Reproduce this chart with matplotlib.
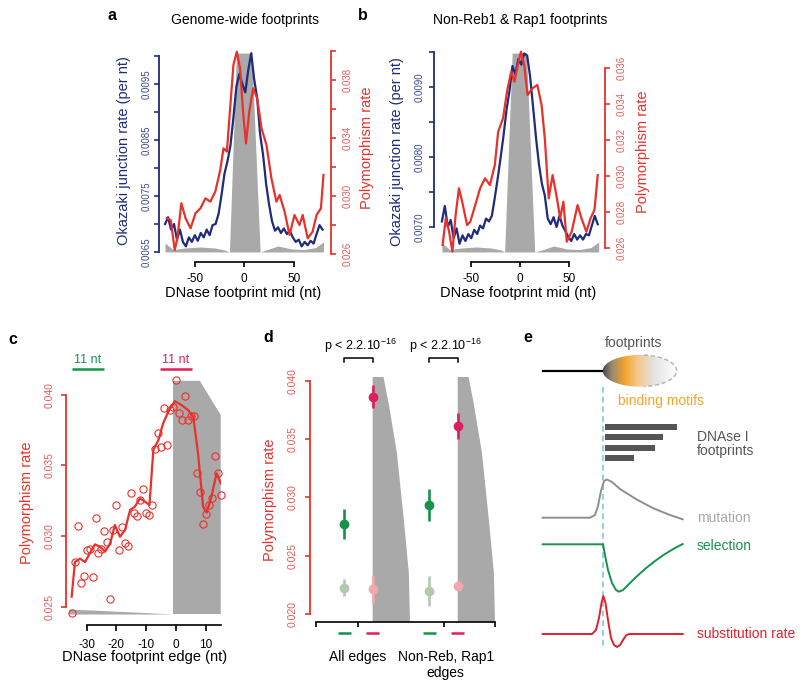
import numpy as np
import matplotlib
matplotlib.use('Agg')
import matplotlib.pyplot as plt
from matplotlib.patches import Ellipse, Arc, Polygon
from matplotlib.colors import LinearSegmentedColormap

plt.rcParams['font.family'] = ['Liberation Sans', 'DejaVu Sans']
plt.rcParams['axes.unicode_minus'] = False
plt.rcParams['mathtext.fontset'] = 'custom'
plt.rcParams['mathtext.rm'] = 'Liberation Sans'
plt.rcParams['mathtext.default'] = 'regular'

# ---------------- data ----------------
# panel a
a_blue_x = [-80, -77, -74, -71, -68, -65, -62, -59, -56, -53, -50, -47, -44, -41, -38, -35, -32, -29,
            -26, -23, -20, -17, -14, -11, -8, -5, -2, 1, 4, 7, 10, 13, 16, 19, 22, 25, 28, 31, 34, 37,
            40, 43, 46, 49, 52, 55, 58, 61, 64, 67, 70, 73, 76, 79]
a_blue_y = [0.00700, 0.00712, 0.00690, 0.00700, 0.00672, 0.00690, 0.00668, 0.00660, 0.00676, 0.00668,
            0.00680, 0.00670, 0.00684, 0.00676, 0.00690, 0.00680, 0.00698, 0.00700, 0.00718, 0.00752,
            0.00790, 0.00812, 0.00840, 0.00890, 0.00945, 0.00968, 0.00950, 0.00935, 0.00975, 0.01005,
            0.00958, 0.00925, 0.00860, 0.00823, 0.00772, 0.00735, 0.00705, 0.00688, 0.00694, 0.00684,
            0.00692, 0.00682, 0.00688, 0.00676, 0.00668, 0.00672, 0.00660, 0.00668, 0.00662, 0.00670,
            0.00665, 0.00682, 0.00698, 0.00690]
a_red_x = [-78.3, -74.3, -70.3, -67.6, -63.6, -59.3, -54.3, -49.3, -44.3, -39.3, -34.3, -29.3, -24.3,
           -21, -17.6, -14.3, -11, -7.6, -4.3, -1, 1.7, 5, 9, 13, 17.4, 22.4, 27.4, 32.4, 35.7, 40.7,
           45.7, 50.7, 55.7, 59, 64, 69, 73, 77.4, 80]
a_red_y = [0.02846, 0.02834, 0.02628, 0.02708, 0.02950, 0.02846, 0.02777, 0.02881, 0.02915, 0.02984,
           0.02961, 0.03030, 0.03179, 0.03329, 0.03306, 0.03605, 0.03903, 0.03995, 0.03881, 0.03559,
           0.03363, 0.03581, 0.03743, 0.03674, 0.03467, 0.03352, 0.03122, 0.02961, 0.03007, 0.02892,
           0.02731, 0.02869, 0.02800, 0.02869, 0.02708, 0.02754, 0.02869, 0.02915, 0.03145]
a_gray_x = [-80, -72, -60, -45, -30, -20, -15, -8, 7.5, 16, 22, 34, 48, 60, 72, 80]
a_gray_h = [0.045, 0.012, 0.02, 0.025, 0.02, 0.01, 0.0, 1.0, 1.0, 0.0, 0.01, 0.03, 0.015, 0.012, 0.022, 0.05]

# panel b
b_blue_x = a_blue_x
b_blue_y = [0.00708, 0.00730, 0.00700, 0.00710, 0.00684, 0.00698, 0.00676, 0.00688, 0.00680, 0.00690,
            0.00684, 0.00696, 0.00690, 0.00702, 0.00698, 0.00712, 0.00708, 0.00716, 0.00742, 0.00770,
            0.00800, 0.00832, 0.00868, 0.00895, 0.00930, 0.00918, 0.00940, 0.00932, 0.00948, 0.00945,
            0.00915, 0.00872, 0.00828, 0.00790, 0.00762, 0.00745, 0.00712, 0.00704, 0.00714, 0.00700,
            0.00716, 0.00702, 0.00694, 0.00686, 0.00680, 0.00690, 0.00682, 0.00688, 0.00682, 0.00690,
            0.00688, 0.00702, 0.00716, 0.00704]
b_red_x = [-79.3, -76, -72.6, -69.3, -66, -62.6, -59.3, -54.3, -51, -46, -41, -36, -31, -26, -22.6,
           -17.6, -13.6, -9.3, -6, -2.6, 0.7, 4, 7.4, 12.4, 17.4, 21.7, 25, 29, 33, 37.4, 40.7, 44,
           47.4, 52.4, 58.4, 62.4, 67.4, 71.7, 75.7, 79]
b_red_y = [0.02617, 0.02765, 0.02690, 0.02580, 0.02783, 0.02931, 0.02857, 0.02727, 0.02746, 0.02838,
           0.02931, 0.02986, 0.02949, 0.03060, 0.03244, 0.03319, 0.03466, 0.03577, 0.03521, 0.03614,
           0.03688, 0.03614, 0.03448, 0.03485, 0.03503, 0.03392, 0.03208, 0.02875, 0.03004, 0.02875,
           0.02765, 0.02857, 0.02635, 0.02690, 0.02838, 0.02765, 0.02690, 0.02765, 0.02811, 0.03004]
b_gray_x = [-80, -72, -60, -45, -30, -20, -16, -8.3, 6.3, 14.7, 22, 34, 48, 60, 72, 80]
b_gray_h = [0.045, 0.012, 0.02, 0.025, 0.02, 0.01, 0.0, 1.0, 1.0, 0.0, 0.01, 0.03, 0.015, 0.012, 0.022, 0.05]

# panel c
c_pts_x = list(range(-35, 16))
c_pts_y = [0.02453, 0.02814, 0.03071, 0.02666, 0.02719, 0.02901, 0.02905, 0.02712, 0.03126, 0.02878,
           0.02906, 0.03036, 0.02960, 0.02555, 0.03043, 0.03220, 0.02901, 0.03066, 0.02953, 0.02932,
           0.03303, 0.03161, 0.03144, 0.03253, 0.03331, 0.03166, 0.03149, 0.03218, 0.03619, 0.03732,
           0.03628, 0.03905, 0.03645, 0.03893, 0.03912, 0.04105, 0.03869, 0.03822, 0.03994, 0.03822,
           0.03852, 0.03852, 0.03444, 0.03314, 0.03085, 0.03156, 0.03220, 0.03272, 0.03567, 0.03444,
           0.03291]
c_fit_x = [-35, -33.9, -32.2, -30.5, -28.9, -27.2, -25.5, -23.8, -22.1, -20.5, -18.8, -17.1, -15.4,
           -13.8, -12.1, -10.4, -8.9, -7.6, -5.9, -4.3, -2.6, -0.4, 1.9, 4.1, 5.8, 7.4, 9.1, 10.3,
           11.9, 13.6, 15]
c_fit_y = [0.02571, 0.02816, 0.02840, 0.02816, 0.02878, 0.02941, 0.02925, 0.02889, 0.02948, 0.03078,
           0.02995, 0.03043, 0.03184, 0.03208, 0.03267, 0.03243, 0.03220, 0.03609, 0.03680, 0.03798,
           0.03880, 0.03955, 0.03927, 0.03891, 0.03844, 0.03585, 0.03208, 0.03166, 0.03279, 0.03444,
           0.03374]
c_gray_x = [-1, -1, 8, 15, 15]
c_gray_y = [0.02448, 0.04099, 0.04099, 0.03857, 0.02448]
c_wedge_x = [-36, -30, -20, -10, -1]
c_wedge_y = [0.02482, 0.02478, 0.02468, 0.02458, 0.02448]

# panel d
d_groups = ['All edges', 'Non-Reb, Rap1\nedges']
d_pos = [1, 2, 4, 5]
d_main = [0.02770, 0.03865, 0.02936, 0.03614]
d_main_err = [0.0013, 0.0010, 0.0014, 0.0011]
d_ctrl = [0.02226, 0.02212, 0.02197, 0.02243]
d_ctrl_err = [0.0007, 0.0012, 0.0013, 0.0004]
d_gray_u = [0.0, 0.29, 0.43, 0.65, 0.84, 0.97, 1.0]
d_gray_h = [1.0, 1.0, 0.89, 0.69, 0.41, 0.20, 0.0]

# colours
NAVY = '#1F2B7B'
RED = '#E8312A'
GRAY = '#A9A9A9'
GREEN = '#17924B'
PINK = '#DD1F5B'
LGREEN = '#B3C9AE'
LPINK = '#F2A7AF'

W, H = 800, 686
fig = plt.figure(figsize=(8, 6.86), dpi=100)
PT = 0.72


def rect(x0, y0, x1, y1):
    return [x0 / W, 1 - y1 / H, (x1 - x0) / W, (y1 - y0) / H]


def style_ylabels(ax, color, rot=90):
    for lbl in ax.get_yticklabels():
        lbl.set_rotation(rot)
        lbl.set_va('center')
        lbl.set_color(color)


def dual_panel(r, x0px, pxnt, gx, gh, bx, by, rx, ry, lylim, rylim, lticks, llabels, rticks, rlabels,
               lpad, rpad):
    ax = fig.add_axes(rect(*r))
    x_left = (r[0] - x0px) / pxnt
    x_right = (r[2] - x0px) / pxnt
    ax.set_xlim(x_left, x_right)
    ax.fill_between(gx, 0.01, 0.01 + np.array(gh) * 0.975, transform=ax.get_xaxis_transform(),
                    color=GRAY, lw=0, zorder=1)
    ax.plot(bx, by, color=NAVY, lw=1.6, zorder=3, clip_on=False)
    ax.set_ylim(*lylim)
    for s in ['top', 'right']:
        ax.spines[s].set_visible(False)
    ax.spines['left'].set_color(NAVY)
    ax.spines['left'].set_linewidth(1.3)
    ax.spines['left'].set_bounds(lticks[0], lticks[-1])
    ax.spines['bottom'].set_position(('outward', 8 * PT))
    ax.spines['bottom'].set_bounds(-50, 50)
    ax.spines['bottom'].set_linewidth(1.2)
    ax.set_xticks([-50, 0, 50])
    ax.set_xticklabels(['-50', '0', '50'], fontsize=8.5)
    ax.tick_params(axis='x', length=5 * PT, width=1.2, pad=4)
    ax.set_yticks(lticks)
    ax.set_yticklabels(llabels, fontsize=7)
    ax.tick_params(axis='y', length=5 * PT, width=1.2, color=NAVY, pad=lpad)
    style_ylabels(ax, '#3A4A8E')
    ax.patch.set_visible(False)

    ax2 = ax.twinx()
    ax2.plot(rx, ry, color=RED, lw=1.6, zorder=4, clip_on=False)
    ax2.set_ylim(*rylim)
    for s in ['top', 'left', 'bottom']:
        ax2.spines[s].set_visible(False)
    ax2.spines['right'].set_color(RED)
    ax2.spines['right'].set_linewidth(1.3)
    ax2.spines['right'].set_bounds(rticks[0], rticks[-1])
    ax2.set_yticks(rticks)
    ax2.set_yticklabels(rlabels, fontsize=7)
    ax2.tick_params(axis='y', length=5 * PT, width=1.2, color=RED, pad=rpad)
    style_ylabels(ax2, '#EA5A55')
    return ax, ax2


# ---- panel a ----
a_lt = [0.0065, 0.0070, 0.0075, 0.0080, 0.0085, 0.0090, 0.0095, 0.0100]
a_ll = ['0.0065', '', '0.0075', '', '0.0085', '', '0.0095', '']
a_rt = [0.026, 0.028, 0.030, 0.032, 0.034, 0.036, 0.038, 0.040]
a_rl = ['0.026', '', '0.030', '', '0.034', '', '0.038', '']
dual_panel((159, 50, 331, 254), 244.3, 0.99, a_gray_x, a_gray_h, a_blue_x, a_blue_y, a_red_x, a_red_y,
           (0.006464, 0.010107), (0.0260, 0.04007), a_lt, a_ll, a_rt, a_rl, 2.0, 4.5)

# ---- panel b ----
b_lt = [0.0070, 0.0075, 0.0080, 0.0085, 0.0090, 0.0095]
b_ll = ['0.0070', '', '0.0080', '', '0.0090', '']
b_rt = [0.026, 0.028, 0.030, 0.032, 0.034, 0.036]
b_rl = ['0.026', '0.028', '0.030', '0.032', '0.034', '0.036']
dual_panel((434, 50, 605, 254), 520.3, 0.98, b_gray_x, b_gray_h, b_blue_x, b_blue_y, b_red_x, b_red_y,
           (0.006614, 0.009529), (0.02567, 0.03697), b_lt, b_ll, b_rt, b_rl, 3.0, 4.5)

# ---- panel c ----
axc = fig.add_axes(rect(65.7, 378, 220.7, 616))
axc.set_xlim(-37, 15)
axc.set_ylim(0.02434, 0.04119)
axc.fill(c_gray_x, c_gray_y, color=GRAY, lw=0, zorder=1)
axc.fill_between(c_wedge_x, 0.02448, c_wedge_y, color=GRAY, lw=0, zorder=1)
axc.plot(c_fit_x, c_fit_y, color=RED, lw=1.6, zorder=3)
axc.plot(c_pts_x, c_pts_y, ls='none', marker='o', ms=5.2, mfc='none', mec=RED, mew=0.8, zorder=4,
         clip_on=False)
for s in ['top', 'right']:
    axc.spines[s].set_visible(False)
axc.spines['left'].set_color(RED)
axc.spines['left'].set_linewidth(1.3)
axc.spines['left'].set_bounds(0.025, 0.040)
axc.spines['bottom'].set_position(('outward', 8.7 * PT))
axc.spines['bottom'].set_bounds(-30, 15)
axc.spines['bottom'].set_linewidth(1.2)
axc.set_xticks([-30, -20, -10, 0, 10])
axc.set_xticklabels(['-30', '-20', '-10', '0', '10'], fontsize=8.5)
axc.tick_params(axis='x', length=5.5 * PT, width=1.2, pad=6.5)
axc.set_yticks([0.025, 0.030, 0.035, 0.040])
axc.set_yticklabels(['0.025', '0.030', '0.035', '0.040'], fontsize=7.5)
axc.tick_params(axis='y', length=5 * PT, width=1.2, color=RED, pad=4.5)
style_ylabels(axc, '#EA5A55')
axc.patch.set_visible(False)
# 11 nt bars
axc.plot([-35, -24], [0.04183, 0.04183], color=GREEN, lw=1.8, clip_on=False, solid_capstyle='butt')
axc.plot([-5.5, 5.5], [0.04183, 0.04183], color=PINK, lw=1.8, clip_on=False, solid_capstyle='butt')
axc.text(-29.5, 0.04205, '11 nt', color=GREEN, ha='center', va='bottom', fontsize=9)
axc.text(0, 0.04205, '11 nt', color=PINK, ha='center', va='bottom', fontsize=9)

# ---- panel d ----
axd = fig.add_axes(rect(310, 376.7, 495, 622))
axd.set_xlim(-0.21, 6.316)
axd.set_ylim(0.01931, 0.04037)
for gx0 in (2, 5):
    gxs = [gx0] + [gx0 + u * 1.316 for u in d_gray_u] + [gx0]
    ghs = [0.0] + d_gray_h + [0.0]
    axd.fill(gxs, ghs, transform=axd.get_xaxis_transform(), color=GRAY, lw=0, zorder=1)
main_cols = [GREEN, PINK, GREEN, PINK]
ctrl_cols = [LGREEN, LPINK, LGREEN, LPINK]
for p, v, e, c in zip(d_pos, d_ctrl, d_ctrl_err, ctrl_cols):
    axd.errorbar([p], [v], yerr=[e], fmt='o', color=c, ms=6, elinewidth=1.9, capsize=0, zorder=3)
for p, v, e, c in zip(d_pos, d_main, d_main_err, main_cols):
    axd.errorbar([p], [v], yerr=[e], fmt='o', color=c, ms=6, elinewidth=1.9, capsize=0, zorder=4)
for s in ['top', 'right']:
    axd.spines[s].set_visible(False)
axd.spines['left'].set_color(RED)
axd.spines['left'].set_linewidth(1.3)
axd.spines['left'].set_bounds(0.020, 0.040)
axd.spines['bottom'].set_bounds(0.0, 6.316)
axd.spines['bottom'].set_linewidth(1.2)
axd.set_xticks([0.0, 1.5, 4.5, 6.316])
axd.set_xticklabels([])
axd.tick_params(axis='x', length=5 * PT, width=1.2)
axd.set_yticks([0.020, 0.025, 0.030, 0.035, 0.040])
axd.set_yticklabels(['0.020', '0.025', '0.030', '0.035', '0.040'], fontsize=7.5)
axd.tick_params(axis='y', length=5 * PT, width=1.2, color=RED, pad=5.5)
style_ylabels(axd, '#EA5A55')
axd.patch.set_visible(False)
xt = axd.get_xaxis_transform()
for p, c in zip(d_pos, main_cols):
    axd.plot([p - 0.23, p + 0.23], [-0.046, -0.046], transform=xt, color=c, lw=1.8, clip_on=False,
             solid_capstyle='butt')
axd.text(1.46, -0.115, d_groups[0], transform=xt, ha='center', va='top', fontsize=10)
axd.text(4.58, -0.115, d_groups[1], transform=xt, ha='center', va='top', fontsize=10, linespacing=1.15)
for g0 in (1, 4):
    axd.plot([g0, g0, g0 + 1, g0 + 1], [1.061, 1.075, 1.075, 1.061], transform=xt, color='black',
             lw=1.1, clip_on=False)
    axd.text(g0 + 0.55, 1.088, 'p < 2.2.10$^{-16}$', transform=xt, ha='center', va='bottom', fontsize=9)

# ---------------- overlay (pixel coordinates) ----------------
ov = fig.add_axes([0, 0, 1, 1])
ov.set_xlim(0, W)
ov.set_ylim(H, 0)
ov.axis('off')
ov.patch.set_visible(False)


def T(x, y, s, **kw):
    kw.setdefault('ha', 'center')
    kw.setdefault('va', 'center')
    ov.text(x, y, s, **kw)


for lab, (x, y) in zip('abcde', [(112, 15), (363, 15), (13, 339), (268, 338), (528, 338)]):
    T(x, y, lab, fontsize=11.5, fontweight='bold')

T(245, 20, 'Genome-wide footprints', fontsize=10)
T(520, 20, 'Non-Reb1 & Rap1 footprints', fontsize=10)
T(124, 151, 'Okazaki junction rate (per nt)', rotation=90, color=NAVY, fontsize=10.5)
T(367, 148, 'Polymorphism rate', rotation=90, color=RED, fontsize=10.5)
T(397, 152, 'Okazaki junction rate (per nt)', rotation=90, color=NAVY, fontsize=10.5)
T(643, 152, 'Polymorphism rate', rotation=90, color=RED, fontsize=10.5)
T(243, 293, 'DNase footprint mid (nt)', fontsize=10.5)
T(518, 293, 'DNase footprint mid (nt)', fontsize=10.5)
T(27, 503, 'Polymorphism rate', rotation=90, color=RED, fontsize=10.5)
T(145, 657, 'DNase footprint edge (nt)', fontsize=10.5)
T(270, 500, 'Polymorphism rate', rotation=90, color=RED, fontsize=10.5)

# ---- panel e (schematic) ----
e_bar_right = [677.3, 663.3, 654.7, 634.0]
e_bar_y = [426.7, 437.3, 447.7, 458.0]
e_mut_x = [542.7, 590, 595, 598, 601, 604, 607, 612, 620, 636.7, 653.3, 670, 682.7]
e_mut_y = [517.7, 517.7, 515, 506, 491, 481, 479.5, 482, 489, 499.5, 508.3, 515, 519.3]
e_sel_x = [542.7, 603, 605, 608, 612, 616, 619, 623, 628, 635, 645, 655, 665, 675, 682.7]
e_sel_y = [544.3, 544.3, 555, 570, 583, 590, 591.7, 590, 585, 578, 569, 561, 554, 548, 544]
e_sub_x = [542.7, 592, 596, 599, 601.5, 603.3, 605.5, 608, 611, 614, 617, 620, 623, 626, 629, 682.7]
e_sub_y = [634, 634, 630, 618, 603, 596, 603, 620, 638, 645, 647, 645, 640, 635.5, 634, 634]

ov.plot([603.3, 603.3], [386.7, 648.3], color='#8FD3DE', lw=1.4, ls=(0, (3, 2)), zorder=1)
ov.plot([542.7, 603], [370.7, 370.7], color='black', lw=1.6, zorder=2)
ell = Ellipse((639.7, 370.8), 74, 31.7, facecolor='none', edgecolor='none')
ov.add_patch(ell)
fp_cmap = LinearSegmentedColormap.from_list(
    'fp', [(0, '#4A4A4A'), (0.12, '#9A8A70'), (0.3, '#F5A52A'), (0.45, '#F3C585'), (0.7, '#E4E4E4'),
           (1, '#FFFFFF')])
im = ov.imshow(np.linspace(0, 1, 256).reshape(1, -1), extent=(602.7, 676.7, 386.7, 355), cmap=fp_cmap,
               aspect='auto', zorder=2, interpolation='bilinear')
im.set_clip_path(ell)
ov.add_patch(Arc((639.7, 370.8), 74, 31.7, theta1=-75, theta2=75, ls=(0, (3, 2)), color='#B0B0B0',
                 lw=1.0, zorder=3))
ov.set_xlim(0, W)
ov.set_ylim(H, 0)
T(633, 343.5, 'footprints', color='#555555', fontsize=10)
T(661.5, 401, 'binding motifs', color='#F5A52A', fontsize=10)
for xr, yb in zip(e_bar_right, e_bar_y):
    ov.add_patch(plt.Rectangle((605, yb - 2.9), xr - 605, 5.8, color='#555555', lw=0))
T(697, 436.7, 'DNAse I', color='#555555', fontsize=10, ha='left')
T(697, 451, 'footprints', color='#555555', fontsize=10, ha='left')
ov.plot(e_mut_x, e_mut_y, color='#8E8E8E', lw=1.4)
T(697, 518.5, 'mutation', color='#A8A8A8', fontsize=10, ha='left')
ov.plot(e_sel_x, e_sel_y, color=GREEN, lw=1.4)
T(697, 546.5, 'selection', color=GREEN, fontsize=10, ha='left')
ov.plot(e_sub_x, e_sub_y, color='#E0202E', lw=1.4)
T(697, 634, 'substitution rate', color='#E0202E', fontsize=10, ha='left')

fig.savefig('out.png', dpi=100)
